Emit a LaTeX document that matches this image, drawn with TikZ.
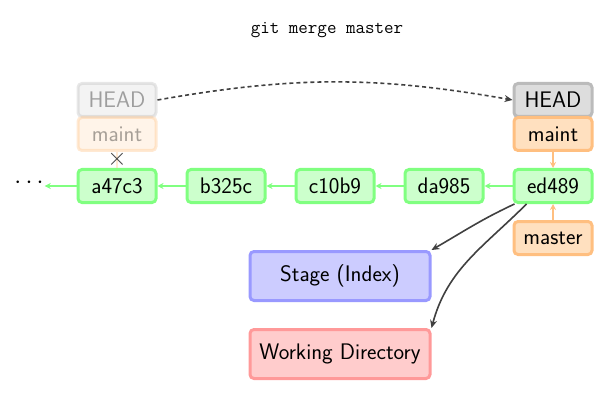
\documentclass[tikz,border=0pt]{standalone}
\usepackage{fontspec}
\usetikzlibrary{arrows.meta}
\definecolor{cgfill}{RGB}{204,255,204}
\definecolor{cgline}{RGB}{128,255,128}
\definecolor{hfill}{RGB}{221,221,221}
\definecolor{hline}{RGB}{187,187,187}
\definecolor{bfill}{RGB}{255,224,191}
\definecolor{bline}{RGB}{255,191,128}
\definecolor{sfill}{RGB}{204,204,255}
\definecolor{sline}{RGB}{153,153,255}
\definecolor{wfill}{RGB}{255,204,204}
\definecolor{wline}{RGB}{255,153,153}
\definecolor{darr}{RGB}{64,64,64}
\tikzset{
  box/.style={rounded corners=4pt, line width=3pt, minimum width=78pt, minimum height=33pt, inner sep=0pt,
    font=\sffamily\fontsize{22.5}{26}\selectfont},
  commit/.style={box, draw=cgline, fill=cgfill},
  headbox/.style={box, draw=hline, fill=hfill},
  branch/.style={box, draw=bline, fill=bfill},
  area/.style={box, minimum width=180pt, minimum height=49pt},
  faded/.style={opacity=0.35},
  garrow/.style={draw=cgline, line width=1.6pt, -{Stealth[length=6pt,width=6pt]}},
  oarrow/.style={draw=bline, line width=1.6pt, -{Stealth[length=6pt,width=6pt]}},
  darrow/.style={draw=darr, line width=1.6pt, -{Stealth[length=8pt,width=7pt]}},
}
\begin{document}
\begin{tikzpicture}[x=1pt,y=-1pt]
\useasboundingbox (0,0) rectangle (601,403);
\node[font=\ttfamily\fontsize{18.5}{22}\selectfont] (title) at (327,30) {git merge master};

\node[commit] (a) at (117,186) {a47c3};
\node[commit] (b) at (226,186) {b325c};
\node[commit] (c) at (335,186) {c10b9};
\node[commit] (d) at (444,186) {da985};
\node[commit] (e) at (553,186) {ed489};
\node[font=\fontsize{24}{24}\selectfont, inner sep=1pt] (dots) at (29,183) {$\cdots$};

\node[headbox, faded] (h0) at (117,100) {HEAD};
\node[branch, faded] (m0) at (117,134) {maint};
\node[headbox] (h1) at (553,100) {HEAD};
\node[branch] (m1) at (553,134) {maint};
\node[branch] (ms) at (553,238) {master};

\node[area, draw=sline, fill=sfill] (stage) at (340,276) {Stage (Index)};
\node[area, draw=wline, fill=wfill] (wd) at (340,354) {Working Directory};

\draw[garrow] (e) -- (d);
\draw[garrow] (d) -- (c);
\draw[garrow] (c) -- (b);
\draw[garrow] (b) -- (a);
\draw[garrow] (a.west) -- ([yshift=-3pt]dots.east);

\draw[draw=bline, line width=1.6pt, faded] (m0) -- (a);
\node[font=\fontsize{26}{26}\selectfont, text=darr, inner sep=0pt] (x) at (117,159.5) {$\times$};

\draw[oarrow] (m1) -- (e);
\draw[oarrow] (ms) -- (e);

\draw[darrow, dashed, dash pattern=on 4pt off 3pt] (h0.east) to[bend left=10] (h1.west);

\draw[darrow] ([xshift=2pt]e.south west) to[out=-155, in=30] (stage.north east);
\draw[darrow] ([xshift=14pt]e.south west) to[out=-135, in=75] (wd.north east);
\end{tikzpicture}
\end{document}
